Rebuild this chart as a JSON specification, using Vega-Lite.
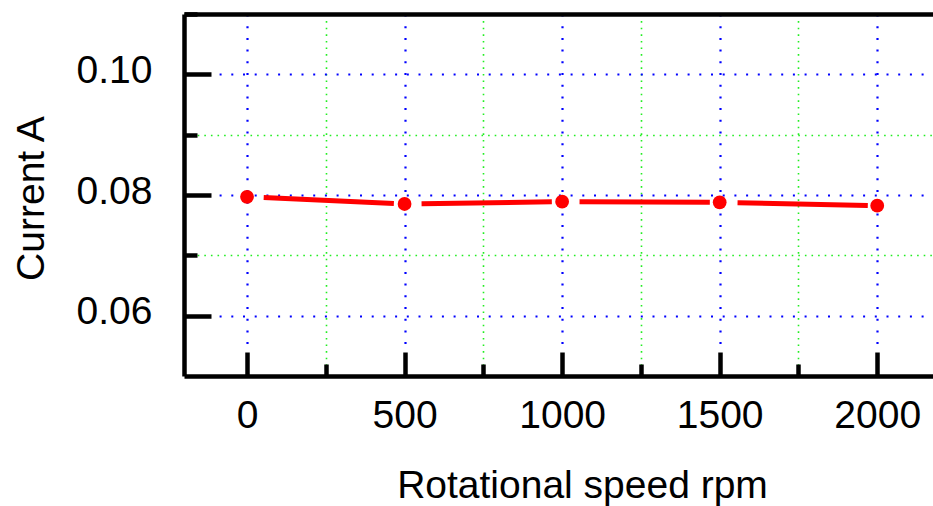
{
  "$schema": "https://vega.github.io/schema/vega-lite/v6.json",
  "width": 749,
  "height": 362,
  "autosize": {"type": "none"},
  "padding": {"left": 184, "top": 14, "right": 0, "bottom": 130},
  "background": "white",
  "config": {"view": {"stroke": null}, "font": "Liberation Sans"},
  "data": {
    "values": [
      {"rpm": 0, "current": 0.0797},
      {"rpm": 500, "current": 0.07851},
      {"rpm": 1000, "current": 0.07889},
      {"rpm": 1500, "current": 0.07879},
      {"rpm": 2000, "current": 0.07823}
    ]
  },
  "resolve": {"axis": {"x": "independent", "y": "independent"}},
  "layer": [
    {
      "mark": {"type": "line", "color": "#ff0000", "strokeWidth": 5, "strokeDash": [130.3, 27.7], "strokeDashOffset": 141.3, "clip": false},
      "encoding": {
        "x": {
          "field": "rpm", "type": "quantitative",
          "scale": {"domain": [-200, 2177], "nice": false, "zero": false},
          "axis": {
            "orient": "bottom",
            "values": [0, 250, 500, 750, 1000, 1250, 1500, 1750, 2000],
            "labelExpr": "datum.value % 500 === 0 ? datum.label : ''",
            "format": "d",
            "domain": true, "domainColor": "black", "domainWidth": 4.5,
            "ticks": true, "tickColor": "black", "tickWidth": 4.5,
            "tickSize": {"condition": {"test": "datum.value % 500 === 0", "value": -24}, "value": -12},
            "grid": true,
            "gridColor": {"condition": {"test": "datum.value % 500 === 0", "value": "#0000ff"}, "value": "#22ee22"},
            "gridDash": {"condition": {"test": "datum.value % 500 === 0", "value": [2, 9.7]}, "value": [1.6, 5]},
            "gridWidth": {"condition": {"test": "datum.value % 500 === 0", "value": 2.2}, "value": 1.6},
            "labelFontSize": 39, "labelColor": "black", "labelBaseline": "alphabetic", "labelPadding": 75, "labelFlush": false, "labelOverlap": false,
            "title": "Rotational speed rpm", "titleFontSize": 39, "titleFontWeight": "normal", "titleColor": "black",
            "titleX": 398, "titleY": 121, "titleBaseline": "alphabetic", "titleAlign": "center"
          }
        },
        "y": {
          "field": "current", "type": "quantitative",
          "scale": {"domain": [0.05, 0.11], "nice": false, "zero": false},
          "axis": {
            "orient": "left",
            "values": [0.06, 0.07, 0.08, 0.09, 0.1, 0.11],
            "labelExpr": "abs(datum.value*50 - round(datum.value*50)) < 1e-6 ? format(datum.value, '.2f') : ''",
            "domain": true, "domainColor": "black", "domainWidth": 4.5,
            "ticks": true, "tickColor": "black", "tickWidth": 4.5,
            "tickSize": {"condition": {"test": "abs(datum.value*50 - round(datum.value*50)) < 1e-6", "value": -27}, "value": -13},
            "grid": true,
            "gridColor": {"condition": {"test": "abs(datum.value*50 - round(datum.value*50)) < 1e-6", "value": "#0000ff"}, "value": "#22ee22"},
            "gridDash": {"condition": {"test": "abs(datum.value*50 - round(datum.value*50)) < 1e-6", "value": [2, 9.7]}, "value": [1.6, 5]},
            "gridWidth": {"condition": {"test": "abs(datum.value*50 - round(datum.value*50)) < 1e-6", "value": 2.2}, "value": 1.6},
            "labelFontSize": 39, "labelColor": "black", "labelAlign": "right", "labelBaseline": "alphabetic", "labelOffset": 8, "labelPadding": 59, "labelFlush": false, "labelOverlap": false,
            "title": "Current A", "titleFontSize": 39, "titleFontWeight": "normal", "titleColor": "black",
            "titleX": -141, "titleY": 184, "titleBaseline": "alphabetic", "titleAlign": "center", "titleAngle": -90
          }
        }
      }
    },
    {
      "mark": {"type": "point", "filled": true, "color": "#ff0000", "size": 190, "opacity": 1, "clip": false},
      "encoding": {
        "x": {
          "field": "rpm", "type": "quantitative",
          "axis": {"orient": "top", "labels": false, "ticks": false, "grid": false, "domain": true, "domainColor": "black", "domainWidth": 4.5, "title": null}
        },
        "y": {
          "field": "current", "type": "quantitative",
          "axis": null
        }
      }
    }
  ]
}
